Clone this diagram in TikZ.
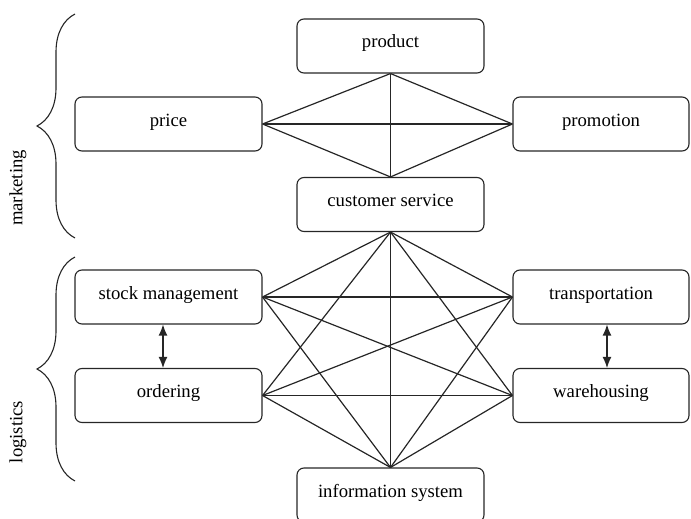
\documentclass[tikz,border=0pt]{standalone}
\usepackage{fontspec}
\setmainfont{Liberation Serif}
\usetikzlibrary{decorations.pathreplacing,arrows.meta}
\begin{document}
\begin{tikzpicture}[x=1pt,y=-1pt,
  box/.style={draw=black!85, rounded corners=7pt, line width=1.1pt, inner sep=0pt,
    text height=14pt, text depth=10pt, font=\fontsize{18.7}{22}\selectfont},
  wbox/.style={box, minimum width=187pt, minimum height=54pt},
  rbox/.style={box, minimum width=176pt, minimum height=54pt},
  link/.style={line width=1.2pt, draw=black!85},
  dbl/.style={link, {Latex[length=11pt,width=9pt]}-{Latex[length=11pt,width=9pt]}},
  bracestyle/.style={line width=1.1pt, draw=black!85, decorate, decoration={brace, amplitude=38pt}},
  side/.style={rotate=90, font=\fontsize{18.7}{22}\selectfont}]
\useasboundingbox (0,0) rectangle (691,519);
\clip (0,0) rectangle (691,519);
% marketing
\node[wbox] (product) at (390.5,46) {product};
\node[wbox] (price) at (168.5,124) {price};
\node[rbox] (promotion) at (601,124) {promotion};
\node[wbox] (cs) at (390.5,204.5) {customer service};
% logistics
\node[wbox] (stock) at (168.5,297) {stock management};
\node[rbox] (transport) at (601,297) {transportation};
\node[wbox] (ordering) at (168.5,395.5) {ordering};
\node[rbox] (warehousing) at (601,395.5) {warehousing};
\node[wbox] (info) at (390.5,495) {information system};
% marketing links
\draw[link] (price.east) -- (promotion.west);
\draw[link] (product.south) -- (cs.north);
\draw[link] (price.east) -- (product.south);
\draw[link] (price.east) -- (cs.north);
\draw[link] (promotion.west) -- (product.south);
\draw[link] (promotion.west) -- (cs.north);
% logistics links
\foreach \a/\b in {cs.south/stock.east, cs.south/ordering.east, cs.south/transport.west,
  cs.south/warehousing.west, cs.south/info.north,
  stock.east/transport.west, stock.east/warehousing.west, stock.east/info.north,
  ordering.east/transport.west, ordering.east/warehousing.west, ordering.east/info.north,
  transport.west/info.north, warehousing.west/info.north}
  \draw[link] (\a) -- (\b);
\draw[dbl] ([xshift=-5.5pt]stock.south) -- ([xshift=-5.5pt]ordering.north);
\draw[dbl] ([xshift=6pt]transport.south) -- ([xshift=6pt]warehousing.north);
% braces
\coordinate (mtop) at (75,14);
\coordinate (mbot) at (75,238);
\coordinate (ltop) at (75,257);
\coordinate (lbot) at (75,481);
\draw[bracestyle] (mbot) -- (mtop);
\draw[bracestyle] (lbot) -- (ltop);
\node[side] (marketing) at (18,188) {marketing};
\node[side] (logistics) at (18,432) {logistics};
\end{tikzpicture}
\end{document}
